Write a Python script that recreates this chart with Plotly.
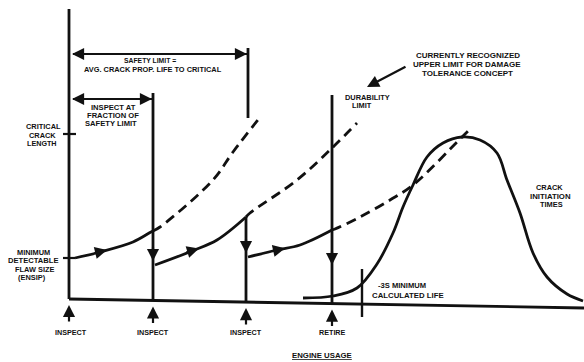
import numpy as np
import plotly.graph_objects as go

# ---- data (usage units along x, crack size units along y) ----
inspect_usage = [0, 84, 177]
retire_usage = 263
safety_limit_usage = 179
minus3s_usage = 293
critical_crack = 166
min_detectable = 42

# crack growth intervals (solid) and their un-inspected continuations (dashed)
growth1_u = [6, 31, 64, 82, 84]
growth1_a = [42, 48, 58, 68, 69]
extrap1_u = [84, 91, 144, 164, 192]
extrap1_a = [69, 73, 120, 148, 184]

growth2_u = [86, 123, 148, 177]
growth2_a = [35, 49, 60, 83]
extrap2_u = [177, 181, 228, 263, 288]
extrap2_a = [83, 87, 120, 152, 177]

growth3_u = [179, 208, 231, 263]
growth3_a = [43, 50, 55, 70]
extrap3_u = [263, 266, 291, 321, 344, 393, 403]
extrap3_a = [70, 71, 83, 100, 115, 163, 173]

# crack initiation time distribution
bell_u = [234, 264, 288, 308, 324, 334, 344, 358, 374, 393, 411, 428, 438, 451, 464, 478, 498, 514]
bell_a = [2, 4, 12, 36, 67, 93, 115, 143, 157, 163, 160, 147, 120, 87, 47, 23, 6, -1]

# drop after each inspection (crack removed)
drop_u = [84, 177, 263]
drop_top = [69, 83, 70]
drop_arrow_a = [42, 50, 38]

# baseline (usage axis) runs slightly downhill in the drawing
axis_u = [0, 515]
axis_a = [1, -8]
axis_top = 291
inspect1_top = 207
durability_top = 205
safety_line_a = [182, 252]
safety_arrow_a = 246
fraction_arrow_a = 201

event_usage = [0, 84, 177, 263]
event_labels = ["INSPECT", "INSPECT", "INSPECT", "RETIRE"]

BLACK = "#111111"
LW = 2.8
FONT = "Liberation Sans, Arial, sans-serif"


def base(u):
    return float(np.interp(u, axis_u, axis_a))


fig = go.Figure()


def seg(xs, ys, dash=None, w=LW, shape="linear"):
    fig.add_trace(go.Scatter(
        x=xs, y=ys, mode="lines",
        line=dict(color=BLACK, width=w, dash=dash, shape=shape),
        hoverinfo="skip", showlegend=False))


# axes
seg([0, 0], [base(0), axis_top])
seg(axis_u, axis_a)

# ticks on vertical axis
seg([-6, 7], [critical_crack, critical_crack], w=2.2)
seg([-6, 6], [min_detectable, min_detectable], w=2.2)

# vertical limit lines
seg([inspect_usage[1], inspect_usage[1]], [base(inspect_usage[1]), inspect1_top])
seg([inspect_usage[2], inspect_usage[2]], [base(inspect_usage[2]), drop_top[1]])
seg([safety_limit_usage, safety_limit_usage], safety_line_a)
seg([retire_usage, retire_usage], [base(retire_usage), durability_top])
seg([minus3s_usage, minus3s_usage], [-17, 31], w=2.4)

# crack growth curves
for gu, ga in [(growth1_u, growth1_a), (growth2_u, growth2_a), (growth3_u, growth3_a)]:
    seg(gu, ga, shape="spline")
for eu, ea in [(extrap1_u, extrap1_a), (extrap2_u, extrap2_a), (extrap3_u, extrap3_a)]:
    seg(eu, ea, dash="10px,6px", shape="spline")

# initiation time distribution
seg(bell_u, bell_a, shape="spline")

# horizontal dimension lines
seg([4, safety_limit_usage], [safety_arrow_a, safety_arrow_a], w=2.2)
seg([4, inspect_usage[1]], [fraction_arrow_a, fraction_arrow_a], w=2.2)

ann = []


def arrow(x, y, ax, ay, w=2.2, size=1.1):
    ann.append(dict(x=x, y=y, ax=ax, ay=ay, xref="x", yref="y", axref="x", ayref="y",
                    text="", showarrow=True, arrowhead=2, arrowsize=size,
                    arrowwidth=w, arrowcolor=BLACK, standoff=0, startstandoff=0))


# dimension arrowheads
for a_lvl, right in [(safety_arrow_a, safety_limit_usage), (fraction_arrow_a, inspect_usage[1])]:
    arrow(3, a_lvl, 20, a_lvl)
    arrow(right - 1, a_lvl, right - 18, a_lvl)

# growth direction arrows
arrow(38, 50, 24, 46.5)
arrow(130, 51.5, 116, 47.3)
arrow(216, 51.8, 202, 48.6)

# drop arrows
for du, mid in zip(drop_u, drop_arrow_a):
    arrow(du, mid - 3, du, mid + 12)

# event arrows below axis
for eu in event_usage:
    arrow(eu, base(eu) - 6, eu, base(eu) - 24)

# pointer from note to durability limit
arrow(298, 213, 338, 234, w=2.2)


def label(x, y, t, size=7.4, xanchor="center"):
    ann.append(dict(x=x, y=y, xref="x", yref="y", text="<b>" + t + "</b>",
                    showarrow=False, xanchor=xanchor, yanchor="middle",
                    borderpad=0,
                    font=dict(family=FONT, size=size, color=BLACK)))


label(-26, 173.5, "CRITICAL")
label(-27, 165, "CRACK")
label(-27, 156.5, "LENGTH", size=7.2)

label(-36, 48, "MINIMUM")
label(-36.5, 39.5, "DETECTABLE", size=7.6)
label(-35, 31, "FLAW SIZE")
label(-37, 22.5, "(ENSIP)")

label(81, 240, "SAFETY LIMIT =", size=6.8)
label(84, 231, "AVG. CRACK PROP. LIFE TO CRITICAL", size=7.4)

label(44, 193, "INSPECT AT", size=7.6)
label(43.5, 185, "FRACTION OF", size=7.6)
label(42, 177, "SAFETY LIMIT", size=7.6)

label(298, 203, "DURABILITY")
label(293, 195, "LIMIT")

label(398.5, 245, "CURRENTLY RECOGNIZED", size=8)
label(397.5, 236, "UPPER LIMIT FOR DAMAGE", size=8)
label(398.5, 227, "TOLERANCE CONCEPT", size=8)

label(480, 112.5, "CRACK")
label(481, 104, "INITIATION", size=7.8)
label(482, 95.5, "TIMES")

label(308, 15, "-3S MINIMUM", size=7.6, xanchor="left")
label(302, 5, "CALCULATED LIFE", size=7.8, xanchor="left")

for eu, t in zip(event_usage, event_labels):
    label(eu + (2 if eu == 0 else 0), -32, t, size=7.2)
label(253, -55, "<u>ENGINE USAGE</u>", size=7.8)

fig.update_layout(
    width=584, height=362,
    margin=dict(l=0, r=0, t=0, b=0),
    paper_bgcolor="white", plot_bgcolor="white",
    xaxis=dict(range=[-69, 515], visible=False, fixedrange=True),
    yaxis=dict(range=[-62, 300], visible=False, fixedrange=True),
    annotations=ann,
    showlegend=False,
)

fig.write_html(
    "out.html",
    config={"displayModeBar": False},
    post_script="document.body.style.margin='0';document.body.style.overflow='hidden';",
)
